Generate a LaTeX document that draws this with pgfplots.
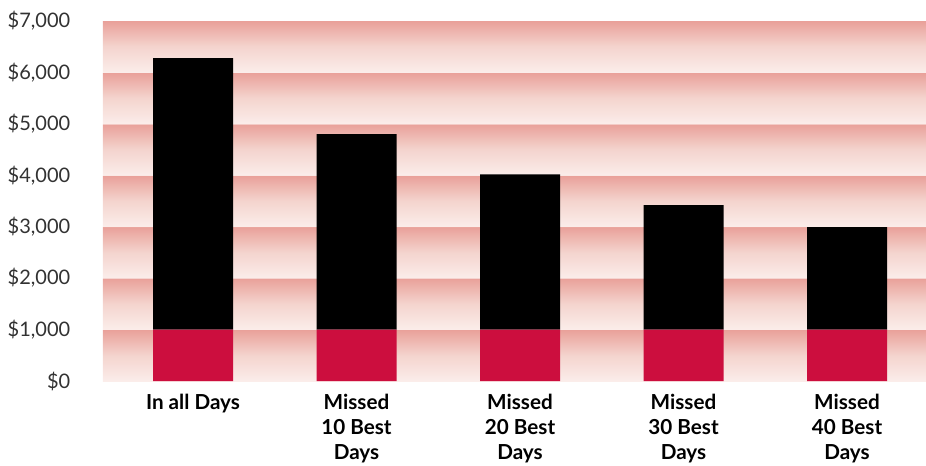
\documentclass[border=0pt]{standalone}
\usepackage{pgfplots}
\pgfplotsset{compat=1.18}
\usepackage{fontspec}
\setmainfont{Lato}
\definecolor{barred}{RGB}{204,14,62}
\definecolor{bandtop}{RGB}{233,160,153}
\definecolor{bandmid}{RGB}{244,212,206}
\definecolor{bandbot}{RGB}{251,237,234}
\definecolor{ticktxt}{RGB}{50,50,50}
% seven repeated bands, fitted into the middle 50bp of the shading
\pgfdeclareverticalshading{bands}{100bp}{%
  color(0bp)=(bandbot); color(25bp)=(bandbot); color(28.57bp)=(bandmid); color(32.13bp)=(bandtop);
  color(32.15bp)=(bandbot); color(35.71bp)=(bandmid); color(39.27bp)=(bandtop);
  color(39.29bp)=(bandbot); color(42.86bp)=(bandmid); color(46.41bp)=(bandtop);
  color(46.43bp)=(bandbot); color(50.00bp)=(bandmid); color(53.56bp)=(bandtop);
  color(53.58bp)=(bandbot); color(57.14bp)=(bandmid); color(60.70bp)=(bandtop);
  color(60.72bp)=(bandbot); color(64.29bp)=(bandmid); color(67.84bp)=(bandtop);
  color(67.86bp)=(bandbot); color(71.43bp)=(bandmid); color(75bp)=(bandtop); color(100bp)=(bandtop)}

\begin{document}
\begin{tikzpicture}
\begin{axis}[
    name=ax,
    scale only axis,
    width=617.25pt, height=270pt,
    ybar stacked,
    bar width=60pt,
    xmin=-0.5505, xmax=4.483,
    ymin=0, ymax=7000,
    axis background/.style={shade, shading=bands},
    axis line style={draw=none},
    major tick length=0pt,
    xtick=data,
    xticklabels={In all Days, Missed\\10 Best\\Days, Missed\\20 Best\\Days, Missed\\30 Best\\Days, Missed\\40 Best\\Days},
    xticklabel style={align=center, font=\fontsize{15.5}{18.75}\selectfont\bfseries, text=black, yshift=-6pt},
    ytick={0,1000,...,7000},
    yticklabels={{\$0},{\$1,000},{\$2,000},{\$3,000},{\$4,000},{\$5,000},{\$6,000},{\$7,000}},
    yticklabel style={font=\fontsize{15}{18}\selectfont, text=ticktxt, xshift=-21pt},
    /pgf/number format/assume math mode=true,
]
% initial investment
\addplot[fill=barred, draw=none] coordinates {(0,1000) (1,1000) (2,1000) (3,1000) (4,1000)};
% growth on top
\addplot[fill=black, draw=none] coordinates {(0,5280) (1,3800) (2,3020) (3,2420) (4,1990)};
\end{axis}
\pgfresetboundingbox
\path ([xshift=-77.25pt,yshift=-63pt]ax.south west) rectangle ([yshift=15.75pt]ax.north east);
\end{tikzpicture}
\end{document}
